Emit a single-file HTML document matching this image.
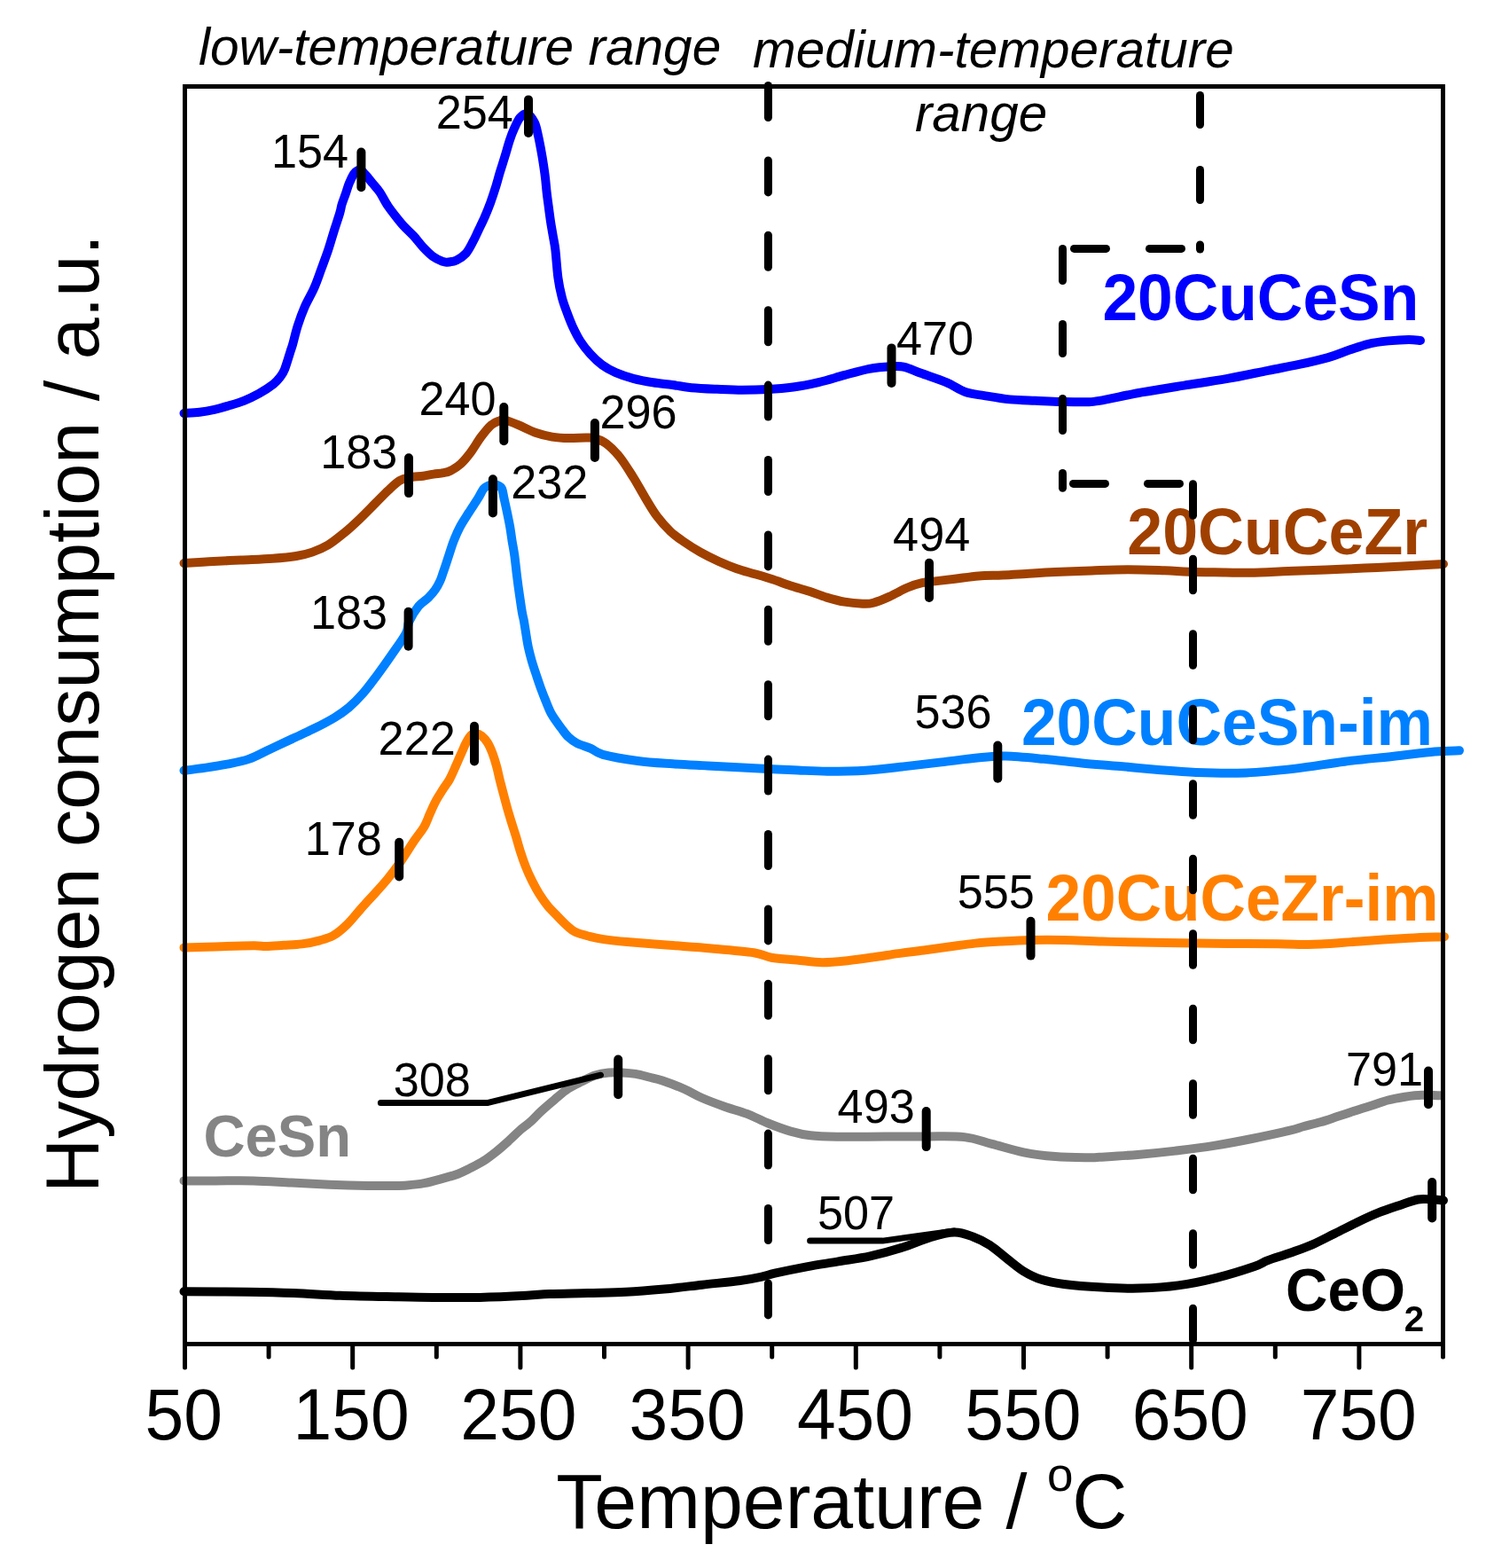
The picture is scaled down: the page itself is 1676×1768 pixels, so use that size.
<!DOCTYPE html>
<html><head><meta charset="utf-8"><title>H2-TPR</title><style>html,body{margin:0;padding:0;background:#fff;}svg{display:block;}</style></head><body>
<svg xmlns="http://www.w3.org/2000/svg" width="1676" height="1768" viewBox="0 0 1676 1768">
<rect width="100%" height="100%" fill="#FFFFFF"/>
<g font-family="'Liberation Sans', Arial, sans-serif">
<path d="M207.5,466.0 C210.4,465.8 219.4,465.5 225.1,464.8 C230.8,464.1 236.2,463.1 241.8,461.9 C247.4,460.6 252.9,459.0 258.5,457.3 C264.1,455.6 269.6,454.0 275.2,451.8 C280.8,449.6 286.3,447.0 291.9,443.9 C297.5,440.8 304.6,436.1 308.6,433.0 C312.6,429.9 313.9,427.8 316.0,425.0 C318.1,422.2 319.2,421.0 321.1,416.3 C323.0,411.6 325.9,401.4 327.4,396.7 C328.9,392.0 328.7,393.3 330.1,388.4 C331.5,383.5 333.5,374.3 335.8,367.2 C338.1,360.1 340.6,353.1 343.7,346.0 C346.8,338.9 351.2,331.9 354.3,324.8 C357.4,317.7 359.7,310.7 362.3,303.6 C364.9,296.5 367.6,289.5 370.0,282.4 C372.4,275.3 374.3,268.3 376.5,261.2 C378.7,254.1 381.8,245.1 383.3,240.0 C384.8,234.9 384.5,234.0 385.6,230.4 C386.7,226.8 388.4,222.6 389.8,218.6 C391.2,214.6 392.2,210.5 393.8,206.7 C395.4,202.9 397.6,198.4 399.1,196.0 C400.6,193.6 401.7,193.2 403.0,192.5 C404.3,191.8 405.5,190.8 407.0,191.5 C408.5,192.2 409.9,194.4 412.1,196.9 C414.3,199.4 417.5,203.4 420.2,206.7 C422.9,210.0 425.5,212.4 428.4,216.7 C431.3,221.0 434.1,227.2 437.7,232.5 C441.3,237.8 446.8,244.6 449.8,248.4 C452.8,252.2 452.9,252.4 455.7,255.3 C458.5,258.2 462.9,262.1 466.5,266.0 C470.1,269.9 473.6,274.9 477.2,278.7 C480.8,282.5 484.4,286.2 488.0,288.9 C491.6,291.5 496.0,293.5 498.7,294.6 C501.4,295.7 501.4,295.9 504.1,295.7 C506.8,295.5 511.2,295.1 514.8,293.4 C518.4,291.7 522.5,289.1 525.6,285.6 C528.7,282.1 531.3,276.4 533.6,272.2 C535.9,268.0 537.1,265.0 539.3,260.4 C541.5,255.7 544.6,249.7 546.9,244.3 C549.2,238.9 551.3,233.6 553.3,228.2 C555.3,222.8 556.9,217.8 558.7,212.1 C560.5,206.4 562.2,199.7 564.0,193.8 C565.8,187.9 567.6,182.5 569.4,176.6 C571.2,170.7 573.0,163.7 574.8,158.3 C576.6,152.9 578.2,148.7 580.2,144.4 C582.2,140.1 584.3,135.3 586.6,132.6 C588.9,129.9 591.4,127.4 594.1,128.3 C596.8,129.2 600.6,133.8 602.7,137.9 C604.9,142.0 605.8,147.8 607.0,153.0 C608.2,158.2 609.2,163.7 610.2,169.1 C611.2,174.5 612.1,179.8 612.9,185.2 C613.7,190.6 614.5,195.9 615.1,201.3 C615.7,206.7 616.1,212.0 616.7,217.4 C617.3,222.8 618.1,228.1 618.8,233.5 C619.5,238.9 620.2,244.3 621.0,249.7 C621.8,255.1 622.8,260.4 623.7,265.8 C624.6,271.2 625.5,274.0 626.4,281.9 C627.3,289.8 628.2,304.2 629.4,313.1 C630.6,322.0 632.1,328.8 633.8,335.2 C635.4,341.6 637.3,346.3 639.3,351.8 C641.3,357.3 643.3,362.8 645.9,368.3 C648.5,373.8 651.4,379.8 654.7,384.9 C658.0,390.0 661.8,394.8 665.8,399.2 C669.8,403.6 674.2,407.9 679.0,411.4 C683.8,414.9 688.6,417.6 694.5,420.2 C700.4,422.8 707.3,425.0 714.3,426.8 C721.3,428.6 729.0,430.0 736.4,431.2 C743.8,432.4 751.2,433.0 758.5,434.0 C765.8,435.0 771.6,436.4 780.0,437.2 C788.4,438.0 799.1,438.4 808.6,438.8 C818.1,439.2 827.8,439.7 837.3,439.7 C846.8,439.7 856.3,439.5 865.9,439.0 C875.5,438.5 885.0,437.8 894.6,436.5 C904.2,435.2 913.7,433.3 923.2,431.1 C932.7,428.9 942.2,425.8 951.8,423.2 C961.3,420.6 971.7,417.5 980.5,415.8 C989.3,414.1 998.2,413.5 1004.8,413.2 C1011.4,412.9 1014.4,412.5 1020.0,413.8 C1025.6,415.1 1030.7,417.9 1038.6,420.8 C1046.5,423.7 1058.9,427.6 1067.3,431.1 C1075.7,434.6 1081.6,439.5 1088.8,442.0 C1096.0,444.5 1101.8,444.7 1110.2,446.1 C1118.6,447.5 1129.4,449.4 1138.9,450.4 C1148.5,451.3 1158.0,451.4 1167.5,451.8 C1177.0,452.2 1186.7,452.8 1196.2,453.0 C1205.8,453.2 1217.5,453.5 1224.8,453.3 C1232.1,453.1 1229.5,453.7 1240.0,451.9 C1250.5,450.1 1271.8,445.3 1287.7,442.4 C1303.6,439.5 1319.6,437.1 1335.5,434.6 C1351.4,432.1 1367.5,430.0 1383.2,427.2 C1399.0,424.4 1416.5,420.5 1430.0,417.8 C1443.5,415.1 1452.7,413.6 1464.0,411.2 C1475.3,408.8 1488.5,405.8 1498.0,403.1 C1507.5,400.4 1513.1,397.7 1520.7,395.1 C1528.3,392.6 1535.9,389.6 1543.4,387.8 C1551.0,386.0 1558.5,385.2 1566.0,384.4 C1573.5,383.6 1582.7,383.0 1588.7,382.9 C1594.7,382.8 1599.8,383.8 1602.0,384.0" fill="none" stroke="#0000FF" stroke-width="10" stroke-linecap="round" stroke-linejoin="round"/>
<path d="M207.5,635.0 C212.2,634.7 225.1,633.9 235.8,633.3 C246.5,632.7 259.7,632.1 271.6,631.5 C283.5,630.9 297.0,630.5 307.4,629.7 C317.8,629.0 326.8,628.2 334.2,627.0 C341.6,625.8 346.1,624.7 352.1,622.6 C358.1,620.5 364.0,618.1 370.0,614.5 C376.0,610.9 381.9,606.0 387.9,601.1 C393.9,596.2 399.8,590.7 405.8,585.0 C411.8,579.3 418.3,572.5 423.7,567.1 C429.1,561.7 433.5,557.0 438.0,552.8 C442.5,548.6 446.7,544.4 450.6,542.0 C454.5,539.6 456.8,539.3 461.3,538.4 C465.8,537.5 472.8,537.3 477.4,536.7 C482.0,536.1 485.3,535.2 489.1,534.6 C492.9,534.0 496.8,533.8 500.0,533.1 C503.2,532.5 504.9,532.4 508.2,530.7 C511.5,529.0 515.8,526.6 519.6,523.1 C523.4,519.6 527.3,514.8 531.1,509.7 C534.9,504.6 538.8,497.7 542.6,492.6 C546.4,487.5 550.5,482.2 554.0,479.2 C557.5,476.2 561.1,475.3 563.6,474.4 C566.1,473.4 565.8,472.7 569.3,473.5 C572.8,474.3 578.9,476.8 584.6,479.2 C590.3,481.6 597.4,485.6 603.7,487.8 C610.1,490.0 616.4,491.6 622.7,492.6 C629.1,493.7 635.4,494.0 641.8,494.1 C648.2,494.2 656.1,493.5 660.9,493.5 C665.7,493.5 666.7,493.0 670.5,494.1 C674.3,495.2 679.0,496.6 683.8,500.2 C688.6,503.8 694.0,509.1 699.1,515.5 C704.2,521.9 709.6,530.8 714.4,538.4 C719.2,546.0 723.3,554.0 727.8,561.3 C732.2,568.6 736.3,575.9 741.1,582.3 C745.9,588.7 751.6,594.9 756.4,599.5 C761.2,604.1 764.4,606.1 770.0,610.0 C775.6,613.9 783.2,618.8 790.0,622.6 C796.8,626.4 803.8,629.9 810.6,633.0 C817.4,636.1 824.1,638.8 830.9,641.2 C837.7,643.6 844.5,645.2 851.2,647.2 C858.0,649.2 864.6,651.1 871.4,653.3 C878.1,655.5 884.9,658.2 891.7,660.4 C898.5,662.6 905.2,664.3 912.0,666.5 C918.8,668.7 925.5,671.6 932.3,673.6 C939.1,675.6 945.8,677.5 952.6,678.7 C959.4,679.9 967.5,680.5 972.9,680.7 C978.3,680.9 979.9,681.1 985.0,679.7 C990.1,678.4 996.9,675.5 1003.3,672.6 C1009.7,669.7 1017.5,665.1 1023.6,662.5 C1029.7,659.9 1034.8,658.4 1040.0,657.2 C1045.2,656.0 1048.3,656.1 1054.5,655.4 C1060.7,654.7 1068.7,653.8 1076.9,652.8 C1085.1,651.8 1094.8,650.1 1103.7,649.4 C1112.7,648.7 1121.6,648.9 1130.6,648.5 C1139.5,648.1 1147.5,647.5 1157.4,646.9 C1167.3,646.3 1177.7,645.6 1190.0,645.0 C1202.3,644.4 1217.5,643.9 1231.2,643.4 C1244.9,642.9 1258.6,642.2 1272.3,642.2 C1286.0,642.2 1302.0,642.9 1313.5,643.3 C1325.0,643.7 1329.6,644.4 1341.0,644.8 C1352.4,645.2 1370.6,645.3 1382.1,645.5 C1393.6,645.7 1398.2,646.0 1410.0,645.8 C1421.8,645.5 1438.7,644.6 1453.0,644.0 C1467.3,643.4 1481.6,643.0 1495.9,642.4 C1510.2,641.8 1524.6,641.3 1538.9,640.6 C1553.2,639.9 1567.0,639.2 1581.8,638.4 C1596.6,637.6 1620.3,636.4 1628.0,636.0" fill="none" stroke="#A04000" stroke-width="10" stroke-linecap="round" stroke-linejoin="round"/>
<path d="M207.5,868.8 C211.6,868.3 224.0,866.8 232.2,865.6 C240.3,864.4 248.3,863.2 256.4,861.6 C264.5,860.0 272.6,858.7 280.6,855.9 C288.7,853.1 296.6,848.5 304.7,844.7 C312.8,841.0 320.8,837.2 328.9,833.4 C336.9,829.6 344.9,826.1 353.0,822.1 C361.1,818.1 370.5,813.2 377.2,809.2 C383.9,805.2 387.9,802.5 393.3,797.9 C398.7,793.3 404.0,788.0 409.4,781.8 C414.8,775.6 420.2,768.1 425.6,760.9 C431.0,753.6 436.3,746.1 441.7,738.3 C447.1,730.5 454.5,720.5 457.8,714.2 C461.1,707.9 459.1,705.6 461.5,700.5 C463.9,695.4 468.6,687.8 472.2,683.4 C475.8,679.0 480.0,677.1 483.1,674.0 C486.2,670.9 488.6,668.2 490.8,665.0 C493.0,661.8 494.9,658.3 496.4,655.0 C497.9,651.7 498.8,648.3 500.0,645.0 C501.2,641.7 502.4,638.1 503.4,635.0 C504.4,631.9 504.8,630.4 506.2,626.3 C507.6,622.2 509.5,615.6 511.6,610.2 C513.7,604.8 515.9,599.5 518.8,594.1 C521.6,588.7 525.3,583.4 528.7,578.0 C532.1,572.6 536.4,566.4 539.2,561.9 C542.0,557.4 543.4,553.5 545.4,551.1 C547.4,548.7 549.1,548.4 551.0,547.5 C552.9,546.6 555.2,546.0 557.0,546.0 C558.8,546.0 560.5,546.6 562.0,547.5 C563.5,548.4 565.0,548.7 566.1,551.1 C567.2,553.5 567.5,557.4 568.5,561.9 C569.5,566.4 570.9,572.6 572.0,578.0 C573.1,583.4 574.3,588.7 575.2,594.1 C576.1,599.5 576.8,604.8 577.6,610.2 C578.5,615.6 579.4,619.7 580.3,626.3 C581.2,632.9 582.2,642.7 583.1,650.0 C584.0,657.3 584.8,663.3 585.8,670.0 C586.8,676.7 587.9,685.0 588.8,690.0 C589.6,695.0 590.1,695.8 590.9,700.0 C591.6,704.2 592.5,710.0 593.3,715.0 C594.1,720.0 594.8,725.0 595.9,730.0 C597.0,735.0 598.3,740.0 599.7,745.0 C601.1,750.0 602.8,755.0 604.5,760.0 C606.2,765.0 607.9,770.2 609.7,775.3 C611.6,780.4 613.5,785.4 615.6,790.5 C617.7,795.6 619.5,800.7 622.4,805.8 C625.3,810.9 630.0,816.9 633.1,821.1 C636.2,825.3 638.2,828.4 641.2,831.2 C644.2,834.0 646.7,836.0 650.9,838.1 C655.1,840.2 661.4,841.7 666.2,843.8 C671.1,845.9 671.1,848.4 680.0,850.8 C688.9,853.2 706.3,856.2 719.4,858.0 C732.5,859.8 745.7,860.4 758.8,861.3 C771.9,862.2 785.0,862.7 798.1,863.4 C811.2,864.1 824.4,864.8 837.5,865.5 C850.6,866.2 866.5,866.9 876.9,867.4 C887.3,867.9 890.6,868.1 900.0,868.5 C909.4,868.9 920.4,869.7 933.0,869.7 C945.6,869.7 961.6,869.6 975.9,868.7 C990.2,867.8 1004.6,866.0 1018.9,864.4 C1033.2,862.8 1047.5,861.1 1061.8,859.4 C1076.1,857.7 1092.7,855.4 1104.8,854.3 C1116.9,853.1 1122.2,852.2 1134.3,852.5 C1146.4,852.8 1163.0,854.5 1177.3,855.8 C1191.6,857.1 1205.9,859.0 1220.2,860.4 C1234.5,861.8 1248.9,862.7 1263.2,864.0 C1277.5,865.3 1291.9,866.8 1306.2,868.0 C1320.5,869.2 1332.5,870.4 1349.1,871.0 C1365.6,871.6 1386.8,872.1 1405.5,871.4 C1424.2,870.7 1442.5,868.7 1461.0,866.6 C1479.5,864.5 1498.0,861.0 1516.5,858.7 C1535.0,856.4 1555.0,854.6 1572.0,852.7 C1589.0,850.9 1605.9,848.7 1618.2,847.6 C1630.5,846.5 1641.4,846.5 1646.0,846.3" fill="none" stroke="#0080FF" stroke-width="10" stroke-linecap="round" stroke-linejoin="round"/>
<path d="M207.5,1068.5 C213.4,1068.3 229.9,1067.8 243.0,1067.4 C256.1,1067.0 276.4,1066.4 285.9,1066.3 C295.4,1066.2 294.3,1067.0 300.0,1066.9 C305.7,1066.8 313.2,1066.2 320.0,1065.8 C326.8,1065.4 333.8,1065.3 340.6,1064.4 C347.4,1063.5 355.0,1061.9 360.9,1060.3 C366.8,1058.7 371.0,1057.8 376.1,1054.8 C381.2,1051.8 386.2,1047.5 391.3,1042.6 C396.4,1037.7 401.4,1031.0 406.5,1025.3 C411.6,1019.6 416.6,1014.2 421.7,1008.6 C426.8,1003.0 431.8,997.6 436.9,991.4 C442.0,985.1 447.0,978.4 452.1,971.1 C457.2,963.8 463.0,954.1 467.4,947.7 C471.8,941.3 475.3,937.5 478.2,932.5 C481.1,927.5 482.7,922.3 484.9,917.4 C487.1,912.5 489.2,907.5 491.6,903.1 C494.0,898.7 496.7,894.7 499.2,890.7 C501.7,886.7 504.4,883.5 506.8,879.2 C509.2,874.9 511.3,869.8 513.5,864.9 C515.7,860.0 518.1,854.2 520.2,849.6 C522.3,845.0 524.0,840.7 525.9,837.2 C527.8,833.7 529.9,830.3 531.6,828.6 C533.4,826.9 534.5,826.8 536.4,827.0 C538.3,827.2 540.9,827.9 543.1,829.6 C545.3,831.3 547.7,833.9 549.8,837.2 C551.9,840.5 553.8,845.0 555.5,849.6 C557.2,854.2 558.9,859.6 560.3,864.9 C561.7,870.1 562.8,876.0 564.1,881.1 C565.4,886.2 566.6,890.7 567.9,895.5 C569.2,900.3 570.3,904.7 571.7,909.8 C573.1,914.9 574.8,920.5 576.5,926.0 C578.2,931.5 580.1,937.0 581.9,943.0 C583.7,949.0 585.5,956.0 587.4,961.7 C589.2,967.5 590.9,972.2 593.0,977.5 C595.1,982.8 597.6,988.3 600.1,993.3 C602.6,998.3 605.1,1003.0 608.0,1007.6 C610.9,1012.2 614.1,1016.9 617.5,1021.1 C620.9,1025.3 624.9,1029.1 628.6,1032.9 C632.3,1036.7 636.3,1041.0 639.7,1044.0 C643.1,1047.0 645.0,1049.1 649.2,1051.1 C653.4,1053.1 659.7,1054.6 665.0,1055.9 C670.3,1057.2 673.8,1058.1 680.8,1059.1 C687.8,1060.1 694.8,1060.9 707.1,1062.0 C719.4,1063.1 738.9,1064.6 754.8,1065.8 C770.7,1067.0 786.6,1068.0 802.5,1069.4 C818.4,1070.8 839.0,1072.5 850.3,1074.2 C861.5,1075.9 862.0,1078.3 870.0,1079.7 C878.0,1081.1 889.1,1081.6 898.6,1082.5 C908.1,1083.4 917.8,1085.1 927.3,1085.2 C936.8,1085.3 946.3,1084.2 955.9,1083.2 C965.5,1082.2 975.0,1080.8 984.6,1079.4 C994.2,1078.1 1003.7,1076.4 1013.2,1075.1 C1022.7,1073.8 1032.2,1072.8 1041.8,1071.5 C1051.3,1070.2 1060.8,1068.8 1070.5,1067.5 C1080.2,1066.2 1090.3,1064.6 1100.0,1063.6 C1109.7,1062.6 1118.1,1062.1 1128.6,1061.5 C1139.1,1060.9 1151.1,1060.2 1163.0,1059.9 C1174.9,1059.6 1186.8,1059.6 1200.2,1059.9 C1213.6,1060.2 1228.9,1061.2 1243.2,1061.6 C1257.5,1062.0 1271.7,1062.2 1286.2,1062.5 C1300.7,1062.8 1313.5,1063.1 1330.0,1063.3 C1346.5,1063.5 1367.0,1063.8 1385.5,1063.9 C1404.0,1064.1 1426.9,1064.0 1441.0,1064.2 C1455.1,1064.4 1461.8,1064.9 1470.0,1065.0 C1478.2,1065.1 1479.4,1065.2 1490.0,1064.6 C1500.6,1064.0 1517.0,1062.6 1533.5,1061.4 C1550.0,1060.2 1573.1,1058.6 1589.0,1057.7 C1604.9,1056.8 1622.3,1056.5 1629.0,1056.2" fill="none" stroke="#FF8000" stroke-width="10" stroke-linecap="round" stroke-linejoin="round"/>
<path d="M207.5,1331.4 C213.4,1331.4 229.9,1331.4 243.0,1331.4 C256.1,1331.4 271.6,1331.0 285.9,1331.4 C300.2,1331.8 314.6,1332.9 328.9,1333.6 C343.2,1334.3 357.5,1335.1 371.8,1335.7 C386.1,1336.3 403.4,1336.8 414.8,1337.0 C426.2,1337.2 432.6,1337.1 440.0,1337.0 C447.4,1336.9 452.7,1337.0 459.1,1336.5 C465.5,1336.0 471.8,1335.4 478.2,1334.2 C484.6,1333.0 490.9,1331.2 497.3,1329.4 C503.7,1327.7 510.8,1325.8 516.4,1323.7 C522.0,1321.6 525.9,1319.4 530.7,1317.0 C535.5,1314.6 540.2,1312.3 545.0,1309.3 C549.8,1306.3 554.5,1302.6 559.3,1298.8 C564.1,1295.0 568.9,1290.7 573.7,1286.4 C578.5,1282.1 583.9,1276.7 588.0,1273.1 C592.1,1269.5 594.4,1268.3 598.1,1265.0 C601.8,1261.7 605.7,1257.2 610.3,1253.0 C614.9,1248.8 620.4,1244.0 625.5,1239.8 C630.6,1235.6 635.6,1231.1 640.7,1227.7 C645.8,1224.3 650.8,1222.1 655.9,1219.6 C661.0,1217.1 666.0,1214.2 671.1,1212.5 C676.2,1210.8 681.3,1209.9 686.4,1209.4 C691.5,1208.9 696.5,1209.2 701.6,1209.4 C706.7,1209.7 711.7,1210.1 716.8,1210.9 C721.9,1211.8 726.9,1213.2 732.0,1214.5 C737.1,1215.8 740.5,1216.2 747.2,1218.5 C753.9,1220.8 765.0,1225.0 772.4,1228.3 C779.8,1231.5 784.3,1234.8 791.8,1238.0 C799.2,1241.2 808.6,1244.7 817.1,1247.7 C825.6,1250.7 834.3,1252.8 842.5,1255.9 C850.7,1259.0 858.1,1263.2 866.3,1266.5 C874.5,1269.8 883.7,1273.3 891.7,1275.6 C899.7,1277.9 905.4,1279.3 914.1,1280.3 C922.8,1281.3 929.7,1281.5 943.9,1281.7 C958.1,1281.9 982.5,1281.6 999.3,1281.6 C1016.1,1281.5 1030.0,1281.3 1044.7,1281.4 C1059.4,1281.5 1075.3,1280.7 1087.6,1282.1 C1099.9,1283.5 1107.5,1286.9 1118.7,1289.8 C1129.9,1292.7 1142.6,1296.9 1154.5,1299.3 C1166.4,1301.7 1178.4,1303.1 1190.3,1304.1 C1202.2,1305.1 1217.8,1305.2 1226.1,1305.3 C1234.4,1305.4 1230.5,1305.4 1240.0,1304.8 C1249.5,1304.2 1268.7,1303.1 1283.0,1301.9 C1297.3,1300.7 1311.6,1299.3 1325.9,1297.6 C1340.2,1295.9 1354.6,1294.2 1368.9,1291.9 C1383.2,1289.6 1397.5,1286.9 1411.8,1284.0 C1426.1,1281.1 1445.1,1277.0 1454.8,1274.7 C1464.5,1272.4 1464.3,1271.9 1470.0,1270.3 C1475.7,1268.7 1482.7,1267.2 1489.1,1265.3 C1495.5,1263.4 1501.8,1261.2 1508.2,1259.1 C1514.6,1257.0 1520.9,1254.8 1527.3,1252.7 C1533.7,1250.6 1540.0,1248.7 1546.4,1246.7 C1552.8,1244.7 1559.1,1242.2 1565.5,1240.5 C1571.9,1238.8 1578.2,1237.7 1584.6,1236.7 C1591.0,1235.8 1597.0,1235.0 1603.7,1234.8 C1610.4,1234.6 1621.5,1235.2 1625.0,1235.3" fill="none" stroke="#848484" stroke-width="10" stroke-linecap="round" stroke-linejoin="round"/>
<path d="M207.5,1456.3 C219.4,1456.4 258.2,1456.5 278.8,1456.8 C299.4,1457.1 313.8,1457.4 331.3,1458.1 C348.8,1458.8 366.3,1460.1 383.8,1460.8 C401.3,1461.5 418.8,1461.8 436.3,1462.1 C453.8,1462.4 471.3,1462.8 488.8,1462.9 C506.3,1463.0 523.8,1463.2 541.3,1462.9 C558.8,1462.6 580.7,1461.5 593.8,1460.8 C606.9,1460.1 608.5,1459.5 620.0,1459.0 C631.5,1458.5 648.7,1458.4 663.0,1458.0 C677.3,1457.6 691.6,1457.5 705.9,1456.8 C720.2,1456.0 734.6,1454.8 748.9,1453.5 C763.2,1452.2 777.5,1450.3 791.8,1448.7 C806.1,1447.1 823.4,1445.5 834.8,1444.0 C846.2,1442.5 853.5,1440.8 860.0,1439.4 C866.5,1438.0 865.6,1437.6 873.9,1435.7 C882.2,1433.8 897.8,1430.5 909.7,1428.3 C921.6,1426.1 933.6,1424.4 945.5,1422.4 C957.4,1420.4 969.4,1419.0 981.3,1416.4 C993.2,1413.8 1005.6,1410.4 1017.1,1406.8 C1028.5,1403.2 1040.1,1397.8 1050.0,1394.9 C1059.9,1392.0 1068.7,1389.6 1076.6,1389.5 C1084.5,1389.4 1090.7,1392.1 1097.3,1394.5 C1103.9,1396.9 1110.0,1399.9 1116.4,1404.0 C1122.8,1408.1 1129.1,1414.1 1135.5,1419.0 C1141.9,1423.9 1148.2,1429.6 1154.6,1433.5 C1161.0,1437.4 1166.1,1440.1 1173.7,1442.5 C1181.3,1444.9 1188.5,1446.5 1200.0,1448.0 C1211.5,1449.5 1228.7,1450.8 1243.0,1451.6 C1257.3,1452.4 1271.6,1453.0 1285.9,1452.6 C1300.2,1452.2 1314.6,1451.4 1328.9,1449.4 C1343.2,1447.4 1357.5,1444.4 1371.8,1440.8 C1386.1,1437.2 1405.1,1431.2 1414.8,1427.9 C1424.5,1424.6 1423.3,1423.6 1430.0,1421.1 C1436.7,1418.6 1446.8,1415.7 1455.1,1412.7 C1463.4,1409.7 1471.8,1406.9 1480.1,1403.3 C1488.4,1399.7 1496.8,1395.1 1505.2,1391.0 C1513.6,1386.9 1521.9,1382.5 1530.2,1378.5 C1538.5,1374.5 1546.9,1370.5 1555.3,1367.2 C1563.7,1363.9 1573.1,1360.9 1580.4,1358.4 C1587.7,1356.0 1593.9,1353.5 1599.2,1352.5 C1604.5,1351.5 1607.2,1352.1 1612.0,1352.3 C1616.8,1352.5 1625.3,1353.3 1628.0,1353.5" fill="none" stroke="#000000" stroke-width="10" stroke-linecap="round" stroke-linejoin="round"/>
<polyline points="429.4,1243.4 550.5,1243.4 677.5,1212.2" fill="none" stroke="#000" stroke-width="7" stroke-linecap="round" stroke-linejoin="round"/>
<polyline points="913.6,1399.1 995.5,1399.1 1076,1388" fill="none" stroke="#000" stroke-width="7" stroke-linecap="round" stroke-linejoin="round"/>
<line x1="407.4" y1="171.5" x2="407.4" y2="211.2" stroke="#000" stroke-width="10" stroke-linecap="round"/>
<line x1="596.0" y1="112.4" x2="596.0" y2="149.9" stroke="#000" stroke-width="10" stroke-linecap="round"/>
<line x1="1005.5" y1="392.4" x2="1005.5" y2="432.0" stroke="#000" stroke-width="10" stroke-linecap="round"/>
<line x1="461.0" y1="516.3" x2="461.0" y2="556.1" stroke="#000" stroke-width="10" stroke-linecap="round"/>
<line x1="568.3" y1="459.1" x2="568.3" y2="497.3" stroke="#000" stroke-width="10" stroke-linecap="round"/>
<line x1="670.9" y1="477.0" x2="670.9" y2="516.0" stroke="#000" stroke-width="10" stroke-linecap="round"/>
<line x1="1048.0" y1="634.8" x2="1048.0" y2="673.9" stroke="#000" stroke-width="10" stroke-linecap="round"/>
<line x1="555.9" y1="540.3" x2="555.9" y2="578.5" stroke="#000" stroke-width="10" stroke-linecap="round"/>
<line x1="460.6" y1="689.7" x2="460.6" y2="728.8" stroke="#000" stroke-width="10" stroke-linecap="round"/>
<line x1="1125.3" y1="840.5" x2="1125.3" y2="877.8" stroke="#000" stroke-width="10" stroke-linecap="round"/>
<line x1="450.2" y1="949.8" x2="450.2" y2="988.4" stroke="#000" stroke-width="10" stroke-linecap="round"/>
<line x1="535.0" y1="818.8" x2="535.0" y2="858.5" stroke="#000" stroke-width="10" stroke-linecap="round"/>
<line x1="1162.5" y1="1038.7" x2="1162.5" y2="1077.6" stroke="#000" stroke-width="10" stroke-linecap="round"/>
<line x1="697.2" y1="1194.5" x2="697.2" y2="1234.2" stroke="#000" stroke-width="10" stroke-linecap="round"/>
<line x1="1044.7" y1="1253.0" x2="1044.7" y2="1293.1" stroke="#000" stroke-width="10" stroke-linecap="round"/>
<line x1="1611.0" y1="1207.5" x2="1611.0" y2="1245.3" stroke="#000" stroke-width="10" stroke-linecap="round"/>
<line x1="1615.2" y1="1333.0" x2="1615.2" y2="1373.5" stroke="#000" stroke-width="10" stroke-linecap="round"/>
<text transform="translate(306.0,189.0) scale(1,1.030)" font-size="52.22" fill="#000">154</text>
<text transform="translate(491.8,145.1) scale(1,1.030)" font-size="52.22" fill="#000">254</text>
<text transform="translate(1010.9,399.9) scale(1,1.030)" font-size="52.22" fill="#000">470</text>
<text transform="translate(472.5,467.7) scale(1,1.030)" font-size="52.22" fill="#000">240</text>
<text transform="translate(676.4,482.6) scale(1,1.030)" font-size="52.22" fill="#000">296</text>
<text transform="translate(361.3,527.7) scale(1,1.030)" font-size="52.22" fill="#000">183</text>
<text transform="translate(576.3,562.2) scale(1,1.030)" font-size="52.22" fill="#000">232</text>
<text transform="translate(1007.1,620.9) scale(1,1.030)" font-size="52.22" fill="#000">494</text>
<text transform="translate(350.0,708.8) scale(1,1.030)" font-size="52.22" fill="#000">183</text>
<text transform="translate(1031.5,821.4) scale(1,1.030)" font-size="52.22" fill="#000">536</text>
<text transform="translate(426.6,851.0) scale(1,1.030)" font-size="52.22" fill="#000">222</text>
<text transform="translate(343.8,964.3) scale(1,1.030)" font-size="52.22" fill="#000">178</text>
<text transform="translate(1079.7,1024.2) scale(1,1.030)" font-size="52.22" fill="#000">555</text>
<text transform="translate(443.8,1236.3) scale(1,1.030)" font-size="52.22" fill="#000">308</text>
<text transform="translate(944.6,1266.4) scale(1,1.030)" font-size="52.22" fill="#000">493</text>
<text transform="translate(1517.9,1224.0) scale(1,1.030)" font-size="52.22" fill="#000">791</text>
<text transform="translate(921.9,1385.9) scale(1,1.030)" font-size="52.22" fill="#000">507</text>
<text transform="translate(1243.4,360.9) scale(1,1.030)" font-size="71.36" font-weight="bold" fill="#0000FF">20CuCeSn</text>
<text transform="translate(1271.3,625.0) scale(1,1.030)" font-size="71.76" font-weight="bold" fill="#A04000">20CuCeZr</text>
<text transform="translate(1151.9,839.7) scale(1,1.030)" font-size="71.41" font-weight="bold" fill="#0080FF">20CuCeSn-im</text>
<text transform="translate(1179.5,1037.9) scale(1,1.030)" font-size="71.19" font-weight="bold" fill="#FF8000">20CuCeZr-im</text>
<text transform="translate(229.5,1303.9) scale(1,1.030)" font-size="65.23" font-weight="bold" fill="#848484">CeSn</text>
<text transform="translate(1450.1,1478.2) scale(1,1.030)" font-size="65.64" font-weight="bold" fill="#000">CeO</text>
<text transform="translate(1583.7,1500.9) scale(1,1.030)" font-size="40.33" font-weight="bold" fill="#000">2</text>
<text x="223.9" y="73.1" font-size="58.58" font-style="italic" fill="#000">low-temperature range</text>
<text x="849.0" y="76.1" font-size="58.48" font-style="italic" fill="#000">medium-temperature</text>
<text x="1031.9" y="147.6" font-size="58.37" font-style="italic" fill="#000">range</text>
<line x1="866.4" y1="96.5" x2="866.4" y2="132.5" stroke="#000" stroke-width="9" stroke-linecap="round"/>
<line x1="866.4" y1="180.9" x2="866.4" y2="216.9" stroke="#000" stroke-width="9" stroke-linecap="round"/>
<line x1="866.4" y1="265.3" x2="866.4" y2="301.3" stroke="#000" stroke-width="9" stroke-linecap="round"/>
<line x1="866.4" y1="349.7" x2="866.4" y2="385.7" stroke="#000" stroke-width="9" stroke-linecap="round"/>
<line x1="866.4" y1="434.1" x2="866.4" y2="470.1" stroke="#000" stroke-width="9" stroke-linecap="round"/>
<line x1="866.4" y1="518.5" x2="866.4" y2="554.5" stroke="#000" stroke-width="9" stroke-linecap="round"/>
<line x1="866.4" y1="602.9" x2="866.4" y2="638.9" stroke="#000" stroke-width="9" stroke-linecap="round"/>
<line x1="866.4" y1="687.3" x2="866.4" y2="723.3" stroke="#000" stroke-width="9" stroke-linecap="round"/>
<line x1="866.4" y1="771.7" x2="866.4" y2="807.7" stroke="#000" stroke-width="9" stroke-linecap="round"/>
<line x1="866.4" y1="856.1" x2="866.4" y2="892.1" stroke="#000" stroke-width="9" stroke-linecap="round"/>
<line x1="866.4" y1="940.5" x2="866.4" y2="976.5" stroke="#000" stroke-width="9" stroke-linecap="round"/>
<line x1="866.4" y1="1024.9" x2="866.4" y2="1060.9" stroke="#000" stroke-width="9" stroke-linecap="round"/>
<line x1="866.4" y1="1109.3" x2="866.4" y2="1145.3" stroke="#000" stroke-width="9" stroke-linecap="round"/>
<line x1="866.4" y1="1193.7" x2="866.4" y2="1229.7" stroke="#000" stroke-width="9" stroke-linecap="round"/>
<line x1="866.4" y1="1278.1" x2="866.4" y2="1314.1" stroke="#000" stroke-width="9" stroke-linecap="round"/>
<line x1="866.4" y1="1362.5" x2="866.4" y2="1398.5" stroke="#000" stroke-width="9" stroke-linecap="round"/>
<line x1="866.4" y1="1446.9" x2="866.4" y2="1482.9" stroke="#000" stroke-width="9" stroke-linecap="round"/>
<line x1="1353.5" y1="107.5" x2="1353.5" y2="140.5" stroke="#000" stroke-width="9" stroke-linecap="round"/>
<line x1="1353.5" y1="191.5" x2="1353.5" y2="225.5" stroke="#000" stroke-width="9" stroke-linecap="round"/>
<line x1="1353.5" y1="276.0" x2="1353.5" y2="281.0" stroke="#000" stroke-width="9" stroke-linecap="round"/>
<line x1="1211.5" y1="280.4" x2="1247.5" y2="280.4" stroke="#000" stroke-width="9" stroke-linecap="round"/>
<line x1="1296.5" y1="280.4" x2="1332.5" y2="280.4" stroke="#000" stroke-width="9" stroke-linecap="round"/>
<line x1="1198.5" y1="280.5" x2="1198.5" y2="316.5" stroke="#000" stroke-width="9" stroke-linecap="round"/>
<line x1="1198.5" y1="365.5" x2="1198.5" y2="398.5" stroke="#000" stroke-width="9" stroke-linecap="round"/>
<line x1="1198.5" y1="449.5" x2="1198.5" y2="485.5" stroke="#000" stroke-width="9" stroke-linecap="round"/>
<line x1="1198.5" y1="533.5" x2="1198.5" y2="550.2" stroke="#000" stroke-width="9" stroke-linecap="round"/>
<line x1="1210.5" y1="545.4" x2="1246.5" y2="545.4" stroke="#000" stroke-width="9" stroke-linecap="round"/>
<line x1="1294.5" y1="545.4" x2="1330.5" y2="545.4" stroke="#000" stroke-width="9" stroke-linecap="round"/>
<line x1="1345.5" y1="545.8" x2="1345.5" y2="581.3" stroke="#000" stroke-width="9" stroke-linecap="round"/>
<line x1="1345.5" y1="630.3" x2="1345.5" y2="665.8" stroke="#000" stroke-width="9" stroke-linecap="round"/>
<line x1="1345.5" y1="714.8" x2="1345.5" y2="750.3" stroke="#000" stroke-width="9" stroke-linecap="round"/>
<line x1="1345.5" y1="799.3" x2="1345.5" y2="834.8" stroke="#000" stroke-width="9" stroke-linecap="round"/>
<line x1="1345.5" y1="883.8" x2="1345.5" y2="919.3" stroke="#000" stroke-width="9" stroke-linecap="round"/>
<line x1="1345.5" y1="968.3" x2="1345.5" y2="1003.8" stroke="#000" stroke-width="9" stroke-linecap="round"/>
<line x1="1345.5" y1="1052.8" x2="1345.5" y2="1088.3" stroke="#000" stroke-width="9" stroke-linecap="round"/>
<line x1="1345.5" y1="1137.3" x2="1345.5" y2="1172.8" stroke="#000" stroke-width="9" stroke-linecap="round"/>
<line x1="1345.5" y1="1221.8" x2="1345.5" y2="1257.3" stroke="#000" stroke-width="9" stroke-linecap="round"/>
<line x1="1345.5" y1="1306.3" x2="1345.5" y2="1341.8" stroke="#000" stroke-width="9" stroke-linecap="round"/>
<line x1="1345.5" y1="1390.8" x2="1345.5" y2="1426.3" stroke="#000" stroke-width="9" stroke-linecap="round"/>
<line x1="1345.5" y1="1475.3" x2="1345.5" y2="1510.8" stroke="#000" stroke-width="9" stroke-linecap="round"/>
<rect x="208.5" y="97.5" width="1419.0" height="1418.0" fill="none" stroke="#000" stroke-width="5"/>
<line x1="208.5" y1="1515.5" x2="208.5" y2="1542.0" stroke="#000" stroke-width="5" stroke-linecap="round"/>
<line x1="303.1" y1="1515.5" x2="303.1" y2="1530.0" stroke="#000" stroke-width="5" stroke-linecap="round"/>
<line x1="397.7" y1="1515.5" x2="397.7" y2="1542.0" stroke="#000" stroke-width="5" stroke-linecap="round"/>
<line x1="492.3" y1="1515.5" x2="492.3" y2="1530.0" stroke="#000" stroke-width="5" stroke-linecap="round"/>
<line x1="586.9" y1="1515.5" x2="586.9" y2="1542.0" stroke="#000" stroke-width="5" stroke-linecap="round"/>
<line x1="681.5" y1="1515.5" x2="681.5" y2="1530.0" stroke="#000" stroke-width="5" stroke-linecap="round"/>
<line x1="776.1" y1="1515.5" x2="776.1" y2="1542.0" stroke="#000" stroke-width="5" stroke-linecap="round"/>
<line x1="870.7" y1="1515.5" x2="870.7" y2="1530.0" stroke="#000" stroke-width="5" stroke-linecap="round"/>
<line x1="965.3" y1="1515.5" x2="965.3" y2="1542.0" stroke="#000" stroke-width="5" stroke-linecap="round"/>
<line x1="1059.9" y1="1515.5" x2="1059.9" y2="1530.0" stroke="#000" stroke-width="5" stroke-linecap="round"/>
<line x1="1154.5" y1="1515.5" x2="1154.5" y2="1542.0" stroke="#000" stroke-width="5" stroke-linecap="round"/>
<line x1="1249.1" y1="1515.5" x2="1249.1" y2="1530.0" stroke="#000" stroke-width="5" stroke-linecap="round"/>
<line x1="1343.7" y1="1515.5" x2="1343.7" y2="1542.0" stroke="#000" stroke-width="5" stroke-linecap="round"/>
<line x1="1438.3" y1="1515.5" x2="1438.3" y2="1530.0" stroke="#000" stroke-width="5" stroke-linecap="round"/>
<line x1="1532.9" y1="1515.5" x2="1532.9" y2="1542.0" stroke="#000" stroke-width="5" stroke-linecap="round"/>
<line x1="1627.5" y1="1515.5" x2="1627.5" y2="1530.0" stroke="#000" stroke-width="5" stroke-linecap="round"/>
<text transform="translate(163.5,1622.5) scale(1,1.030)" font-size="78.60" fill="#000">50</text>
<text transform="translate(330.5,1622.5) scale(1,1.030)" font-size="78.60" fill="#000">150</text>
<text transform="translate(519.3,1622.5) scale(1,1.030)" font-size="78.60" fill="#000">250</text>
<text transform="translate(709.6,1622.5) scale(1,1.030)" font-size="78.60" fill="#000">350</text>
<text transform="translate(898.9,1622.5) scale(1,1.030)" font-size="78.60" fill="#000">450</text>
<text transform="translate(1088.3,1622.5) scale(1,1.030)" font-size="78.60" fill="#000">550</text>
<text transform="translate(1276.7,1622.5) scale(1,1.030)" font-size="78.60" fill="#000">650</text>
<text transform="translate(1466.7,1622.5) scale(1,1.030)" font-size="78.60" fill="#000">750</text>
<text transform="translate(627.3,1722.8) scale(1,1.020)" font-size="86.08" fill="#000">Temperature / </text>
<text x="1181.1" y="1680.8" font-size="52.97" fill="#000">o</text>
<text transform="translate(1209.3,1722.8) scale(1,1.020)" font-size="86.08" fill="#000">C</text>
<text transform="translate(111.4,1338.0) rotate(-90)" x="-6.9" y="0" font-size="84.52" fill="#000">Hydrogen consumption / a.u.</text>
</g></svg>
</body></html>
